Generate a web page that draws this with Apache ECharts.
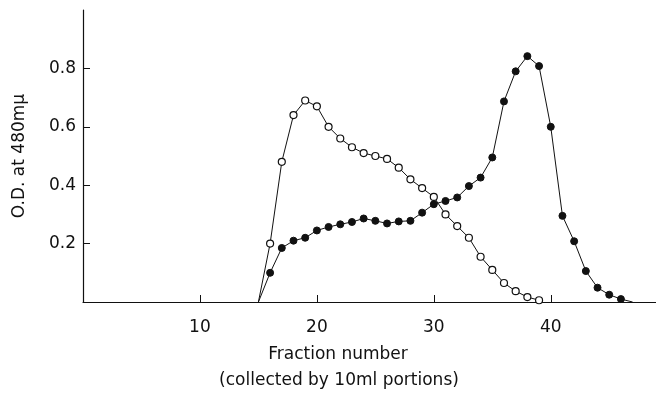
<!DOCTYPE html>
<html><head><meta charset="utf-8">
<script src="https://cdn.jsdelivr.net/npm/echarts@6/dist/echarts.min.js"></script>
<style>html,body{margin:0;padding:0;background:#fff}#c{width:656px;height:394px}</style>
</head><body><div id="c"></div><script>
const openFractions = [15,16,17,18,19,20,21,22,23,24,25,26,27,28,29,30,31,32,33,34,35,36,37,38,39];
const openValues = [0,0.20,0.48,0.64,0.69,0.67,0.60,0.56,0.53,0.51,0.50,0.49,0.46,0.42,0.39,0.36,0.30,0.26,0.22,0.155,0.11,0.065,0.037,0.017,0.006];
const filledFractions = [15,16,17,18,19,20,21,22,23,24,25,26,27,28,29,30,31,32,33,34,35,36,37,38,39,40,41,42,43,44,45,46,47];
const filledValues = [0,0.10,0.185,0.21,0.22,0.245,0.257,0.266,0.274,0.286,0.278,0.269,0.276,0.278,0.306,0.335,0.346,0.358,0.397,0.426,0.495,0.687,0.79,0.842,0.808,0.60,0.295,0.208,0.106,0.049,0.025,0.010,0];
const xTicks = [10,20,30,40];
const yTicks = [0.2,0.4,0.6,0.8];

function build(xs, ys){
  return xs.map((x,i)=>{
    const it = {value:[x, ys[i]]};
    if (ys[i] === 0) it.symbol = 'none';
    return it;
  });
}
const ink = '#111';
const font = '"DejaVu Sans ExtraLight", "DejaVu Sans"';
const chart = echarts.init(document.getElementById('c'), null, {renderer:'canvas'});
chart.setOption({
  animation:false,
  backgroundColor:'#fff',
  grid:{left:83, right:0, top:10, bottom:92},
  xAxis:{type:'value', min:0, max:49,
    axisLine:{show:true, lineStyle:{color:ink, width:1.2}},
    axisTick:{show:true, inside:true, length:7, customValues:xTicks, lineStyle:{color:ink}},
    axisLabel:{customValues:xTicks, margin:17, fontFamily:font, fontSize:17, color:'#111'},
    splitLine:{show:false}},
  yAxis:{type:'value', min:0, max:1, interval:0.2,
    name:'O.D. at 480mμ', nameLocation:'middle', nameGap:55, nameRotate:90,
    nameTextStyle:{fontFamily:font, fontSize:17, color:'#111'},
    axisLine:{show:true, lineStyle:{color:ink, width:1.2}},
    axisTick:{show:true, inside:true, length:7, customValues:yTicks, lineStyle:{color:ink}},
    axisLabel:{customValues:yTicks, margin:7, fontFamily:font, fontSize:17, color:'#111', formatter:v=>v.toFixed(1)},
    splitLine:{show:false}},
  graphic:[
    {type:'text', x:338, y:355, style:{text:'Fraction number', align:'center', verticalAlign:'middle', font:'17px "DejaVu Sans ExtraLight", "DejaVu Sans"', fill:'#111'}},
    {type:'text', x:339, y:381, style:{text:'(collected by 10ml portions)', align:'center', verticalAlign:'middle', font:'17px "DejaVu Sans ExtraLight", "DejaVu Sans"', fill:'#111'}}
  ],
  series:[
    {type:'line', data:build(filledFractions, filledValues), symbol:'circle', symbolSize:7, showAllSymbol:true,
      lineStyle:{color:ink, width:1}, itemStyle:{color:ink, borderColor:ink, borderWidth:1}, z:2},
    {type:'line', data:build(openFractions, openValues), symbol:'circle', symbolSize:7, showAllSymbol:true,
      lineStyle:{color:ink, width:1}, itemStyle:{color:'#fff', borderColor:ink, borderWidth:1.2}, z:3}
  ]
});
</script></body></html>
